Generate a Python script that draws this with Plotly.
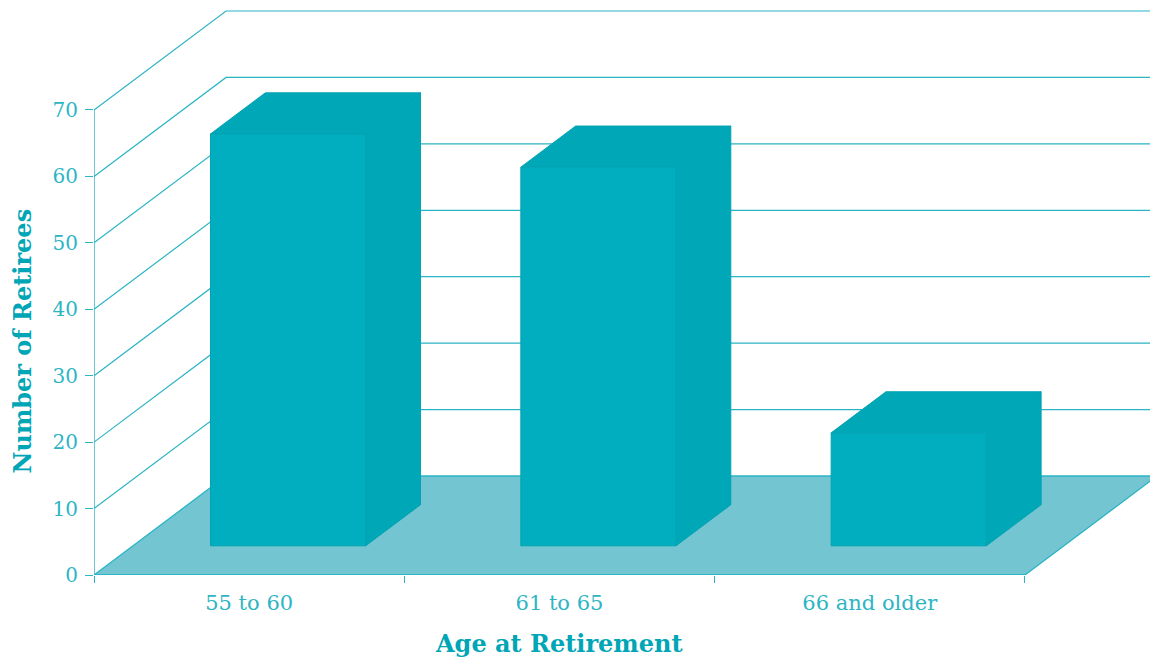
import plotly.graph_objects as go

categories = ["55 to 60", "61 to 65", "66 and older"]
retirees = [62, 57, 17]
y_ticks = [0, 10, 20, 30, 40, 50, 60, 70]

TEAL_LINE = "#2bb4c4"
TEAL_TEXT = "#2db5c4"
TEAL_TITLE = "#00a6b6"
FRONT = "#00aebf"
SHADE = "#00a7b7"
EDGE = "#00a3b3"
FLOOR = "#73c6d1"
FONT = "DejaVu Serif"

# oblique projection: how far the back wall sits from the front plane, in axis units
DX = 0.4255
DY = 14.9
X_MAX = 3.403
Y_MAX = 85.8
BAR_W = 0.5
NEAR, FAR = 0.295, 0.71


def poly(xs, ys, fill, line=EDGE, width=1):
    return go.Scatter(x=xs, y=ys, mode="lines", fill="toself", fillcolor=fill,
                      line=dict(color=line, width=width), hoverinfo="skip",
                      showlegend=False)


def lines(xs, ys, width=1.2, color=TEAL_LINE):
    return go.Scatter(x=xs, y=ys, mode="lines", line=dict(color=color, width=width),
                      hoverinfo="skip", showlegend=False)


fig = go.Figure()

# wall grid: diagonal on the side wall, then horizontal along the back wall
gx, gy = [], []
for v in y_ticks[1:]:
    gx += [0, DX, X_MAX, None]
    gy += [v, v + DY, v + DY, None]
fig.add_trace(lines(gx, gy))

# floor
fig.add_trace(poly([0, 3, 3 + DX, DX, 0], [0, 0, DY, DY, 0], FLOOR, line=TEAL_LINE, width=1.3))

# axis lines
fig.add_trace(lines([0, 0, 3], [y_ticks[-1], 0, 0], width=1.4))

# bars
for i, v in enumerate(retirees):
    x0 = i + 0.5 - BAR_W / 2 + NEAR * DX
    x1 = x0 + BAR_W
    y0 = NEAR * DY
    y1 = y0 + v
    ox = (FAR - NEAR) * DX
    oy = (FAR - NEAR) * DY
    fig.add_trace(poly([x1, x1 + ox, x1 + ox, x1, x1], [y0, y0 + oy, y1 + oy, y1, y0], SHADE))
    fig.add_trace(poly([x0, x1, x1 + ox, x0 + ox, x0], [y1, y1, y1 + oy, y1 + oy, y1], SHADE))
    fig.add_trace(poly([x0, x1, x1, x0, x0], [y0, y0, y1, y1, y0], FRONT))

fig.update_layout(
    width=1150, height=660,
    margin=dict(l=94, r=0, t=5, b=85),
    paper_bgcolor="white", plot_bgcolor="white",
    showlegend=False,
    font=dict(family=FONT, color=TEAL_TEXT, size=20),
    xaxis=dict(
        range=[0, X_MAX], showgrid=False, zeroline=False, showline=False,
        tickmode="array", tickvals=[0.5, 1.5, 2.5], ticktext=categories,
        ticks="", ticklabelstandoff=13,
        tickfont=dict(family=FONT, size=21, color=TEAL_TEXT),
        minor=dict(tickmode="array", tickvals=[0, 1, 2, 3], ticks="outside", ticklen=7,
                   tickcolor=TEAL_LINE, tickwidth=1.3, showgrid=False),
    ),
    yaxis=dict(
        range=[0, Y_MAX], showgrid=False, zeroline=False, showline=False,
        tickmode="array", tickvals=y_ticks, ticks="outside", ticklen=8,
        tickcolor=TEAL_LINE, tickwidth=1.3, ticklabelstandoff=3,
        tickfont=dict(family=FONT, size=20, color=TEAL_TEXT),
    ),
    annotations=[
        dict(text="<b>Age at Retirement</b>", x=1.5, y=0, xref="x", yref="y",
             xanchor="center", yanchor="middle", yshift=-68, showarrow=False,
             font=dict(family=FONT, size=24, color=TEAL_TITLE)),
        dict(text="<b>Number of Retirees</b>", x=0, y=35, xref="x", yref="y",
             xanchor="center", yanchor="middle", xshift=-72, yshift=1, textangle=-90, showarrow=False,
             font=dict(family=FONT, size=24, color=TEAL_TITLE)),
    ],
)

fig.write_html("out.html", post_script="document.body.style.margin='0';",
               config={"displayModeBar": False})
